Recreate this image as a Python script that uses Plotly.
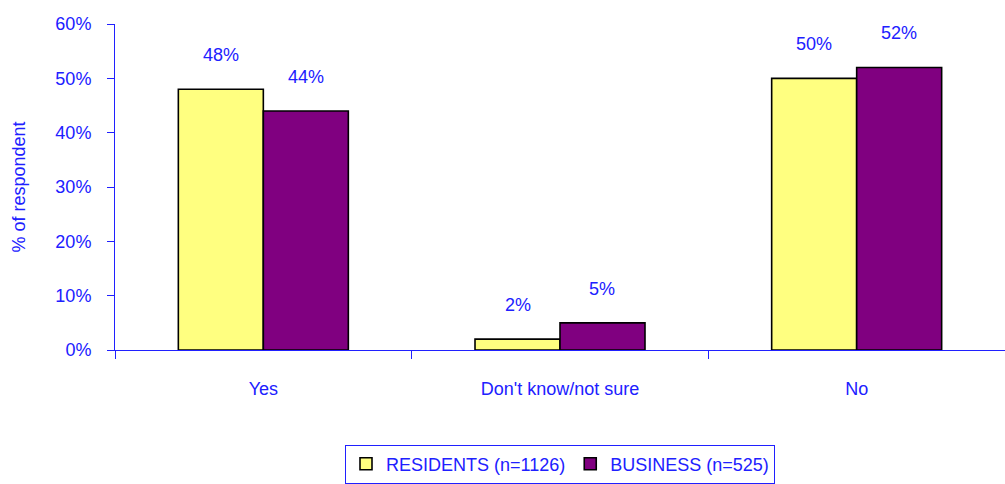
import plotly.graph_objects as go

categories = ["Yes", "Don't know/not sure", "No"]
residents = [48, 2, 50]
business = [44, 5, 52]
series_names = ["RESIDENTS (n=1126)", "BUSINESS (n=525)"]
y_ticks = [0, 10, 20, 30, 40, 50, 60]

BLUE = "#2020ff"
FONT = "Liberation Sans Narrow, Arial Narrow, Liberation Sans, Arial, sans-serif"

fig = go.Figure()
fig.add_trace(go.Bar(x=categories, y=residents, name=series_names[0],
                     marker=dict(color="#ffff80", line=dict(color="black", width=1.6))))
fig.add_trace(go.Bar(x=categories, y=business, name=series_names[1],
                     marker=dict(color="#800080", line=dict(color="black", width=1.6))))

# value labels above each bar (each bar is ~0.143 of a category wide from its centre)
for vals, off in ((residents, -0.143), (business, 0.143)):
    for i, v in enumerate(vals):
        fig.add_annotation(x=i + off, y=v, text=f"{v}%", showarrow=False,
                           yanchor="middle", yshift=34, xref="x", yref="y",
                           font=dict(family=FONT, size=18, color=BLUE))

fig.update_layout(
    width=1005, height=484,
    margin=dict(l=115, r=0, t=24, b=130),
    plot_bgcolor="white", paper_bgcolor="white",
    barmode="group", bargap=0.427, bargroupgap=0,
    font=dict(family=FONT, size=18, color=BLUE),
    showlegend=True,
    legend=dict(orientation="h", x=0.5, xanchor="center", y=-0.29, yanchor="top",
                bordercolor=BLUE, borderwidth=1, font=dict(family=FONT, size=18, color=BLUE),
                tracegroupgap=0),
    xaxis=dict(showline=True, linecolor=BLUE, linewidth=1, ticks="outside",
               tickson="boundaries", ticklen=8, tickcolor=BLUE,
               ticklabelstandoff=22, showgrid=False, zeroline=False,
               tickfont=dict(family=FONT, size=18, color=BLUE)),
    yaxis=dict(range=[0, 60], tickvals=y_ticks, ticktext=[f"{t}%" for t in y_ticks],
               showline=True, linecolor=BLUE, linewidth=1, ticks="outside",
               ticklen=7, tickcolor=BLUE, showgrid=False, zeroline=False,
               ticklabelstandoff=12,
               title=dict(text="% of respondent", standoff=25,
                          font=dict(family=FONT, size=18, color=BLUE)),
               tickfont=dict(family=FONT, size=18, color=BLUE)),
)

fig.write_html("out.html")
